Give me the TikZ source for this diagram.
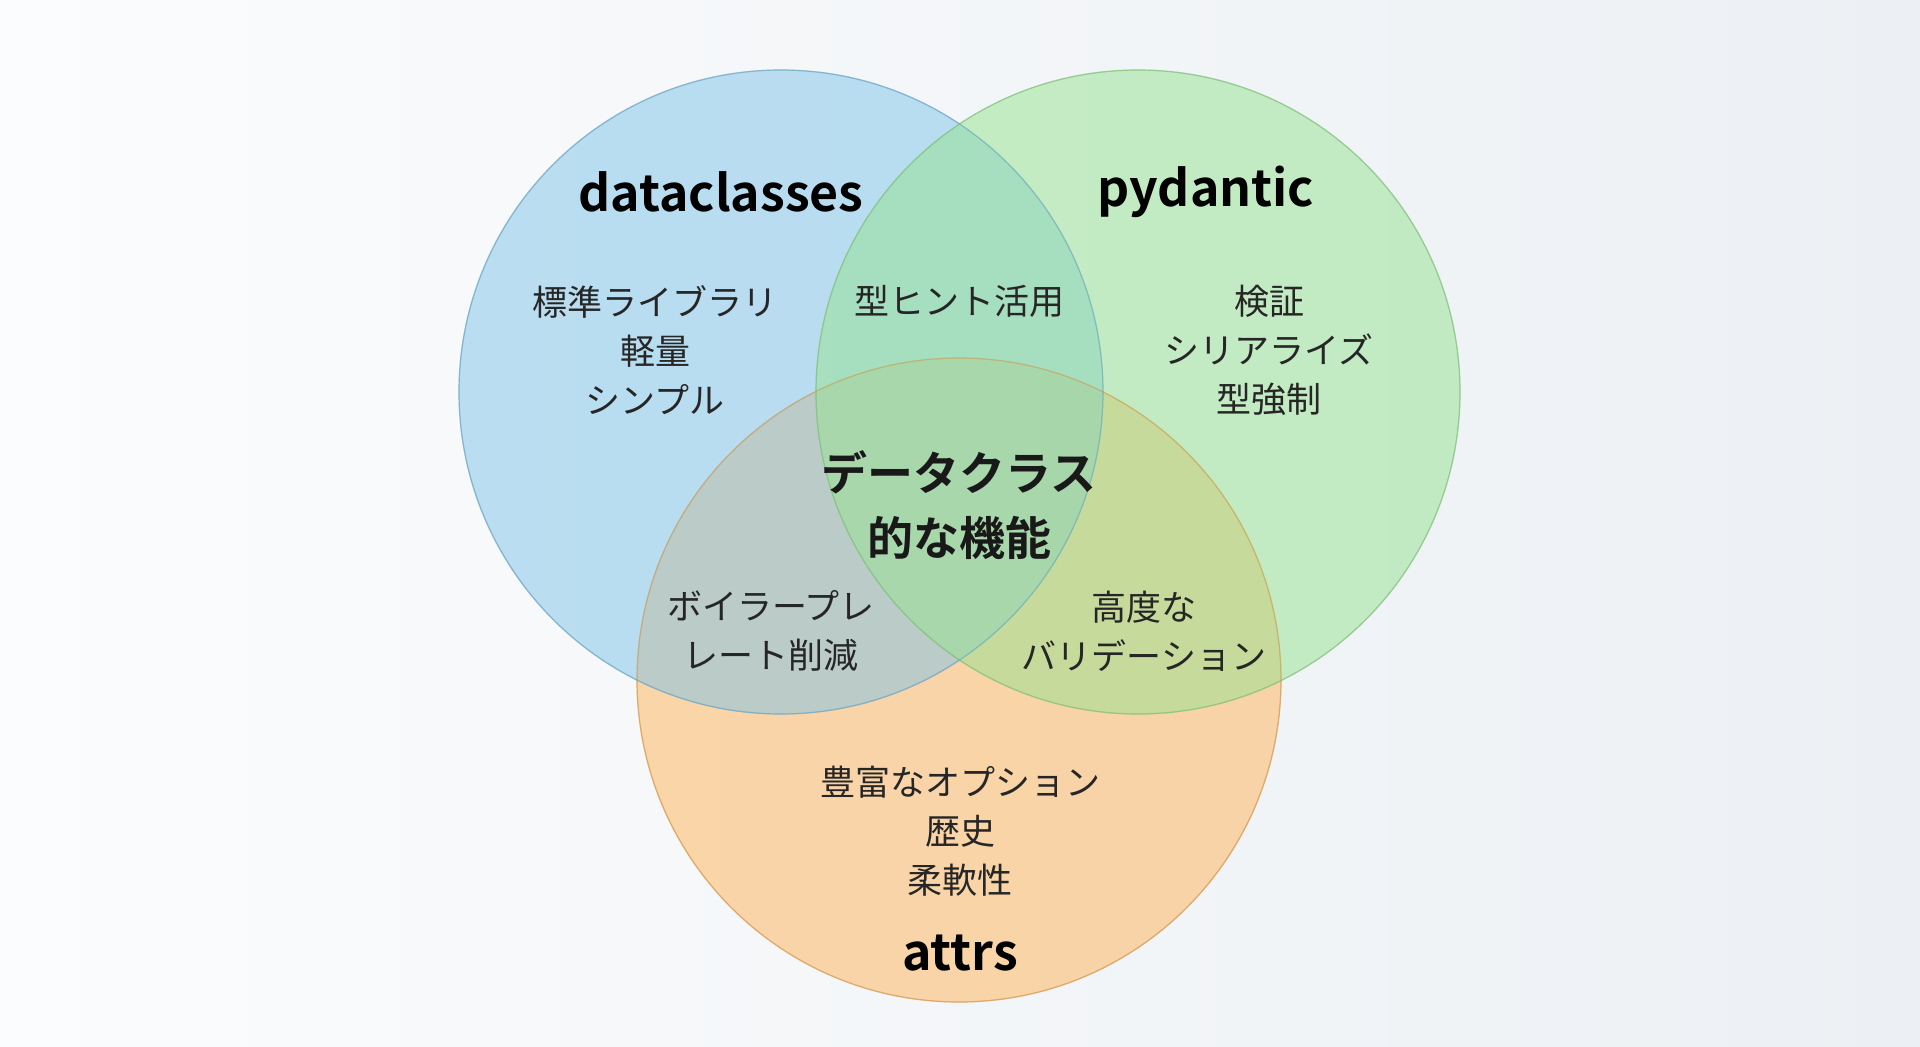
\documentclass[tikz,border=0pt]{standalone}
\usepackage{fontspec}
\setmainfont{Noto Sans CJK JP}[BoldFont={Noto Sans CJK JP Bold}]
\definecolor{bgl}{RGB}{251,252,253}
\definecolor{bgr}{RGB}{236,240,244}
\definecolor{dcblue}{RGB}{126,195,232}
\definecolor{pdgreen}{RGB}{150,227,144}
\definecolor{atorange}{RGB}{254,179,88}

\begin{document}
\begin{tikzpicture}[x=1pt, y=-1pt,
  set/.style={fill=#1, draw=#1!85!black, line width=1.2pt, opacity=0.5},
  title/.style={font=\fontsize{50}{56}\selectfont\bfseries},
  item/.style={align=center, text=black!85, font=\fontsize{35}{49}\selectfont},
  core/.style={align=center, text=black!90, font=\fontsize{46}{65}\selectfont\bfseries}]
  \useasboundingbox (0,0) rectangle (1920,1047);
  \shade[left color=bgl, right color=bgr] (0,0) rectangle (1920,1047);

  \fill[set=atorange] (959,680) circle (322);
  \fill[set=dcblue] (781,392) circle (322);
  \fill[set=pdgreen] (1138,392) circle (322);
  \draw[set=atorange, fill=none] (959,680) circle (322);
  \draw[set=dcblue, fill=none] (781,392) circle (322);
  \draw[set=pdgreen, fill=none] (1138,392) circle (322);

  \node[title] (dc) at (721,192) {dataclasses};
  \node[title] (pd) at (1206,192) {pydantic};
  \node[title] (at) at (960,953) {attrs};

  \node[item] (dconly) at (655,350) {標準ライブラリ\\軽量\\シンプル};
  \node[item] (dcpd) at (959,301) {型ヒント活用};
  \node[item] (pdonly) at (1269,350) {検証\\シリアライズ\\型強制};
  \node[core] (all) at (959,505) {データクラス\\的な機能};
  \node[item] (dcat) at (771,631) {ボイラープレ\\レート削減};
  \node[item] (pdat) at (1144,631) {高度な\\バリデーション};
  \node[item] (atonly) at (960,831) {豊富なオプション\\歴史\\柔軟性};
\end{tikzpicture}
\end{document}
